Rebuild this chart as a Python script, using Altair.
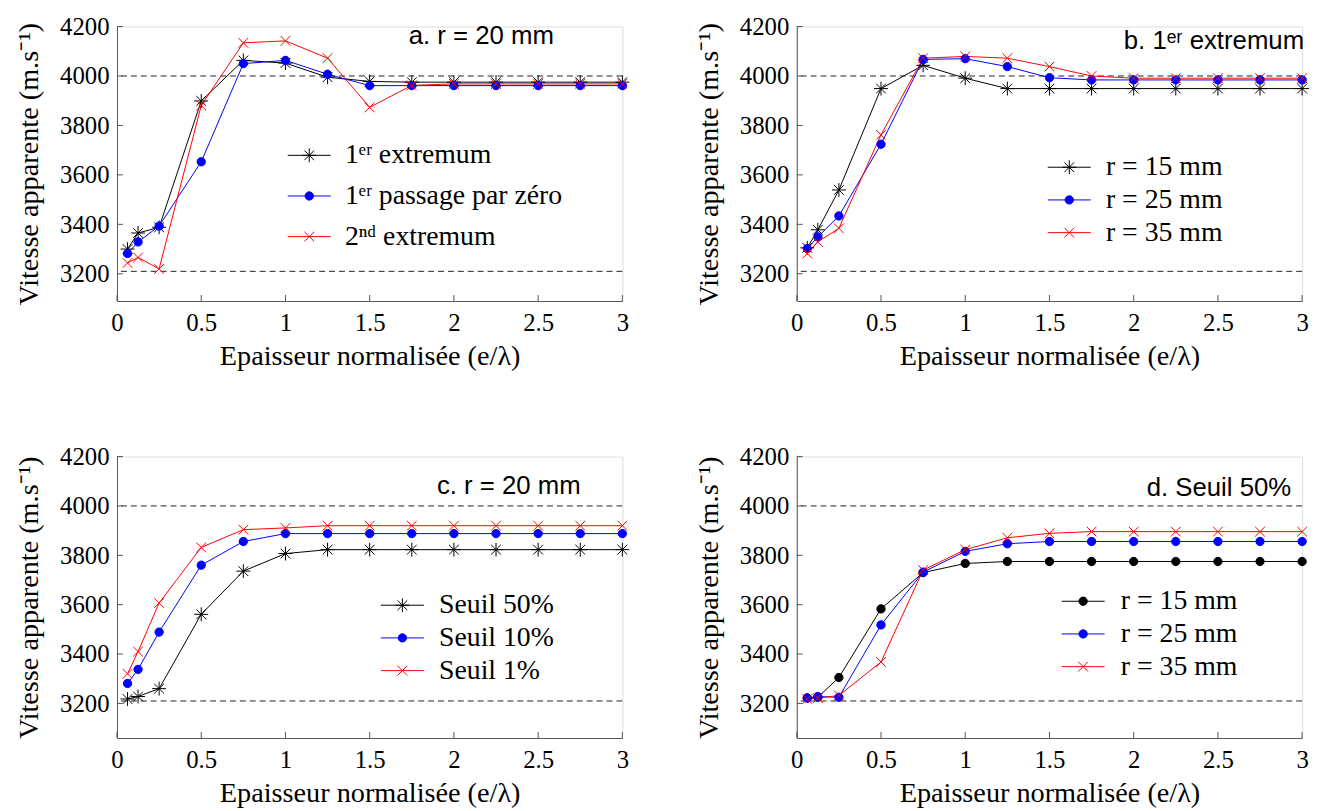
import altair as alt
import pandas as pd

# ---------------- data ----------------
x_vals = [0.0625, 0.125, 0.25, 0.5, 0.75, 1.0, 1.25, 1.5, 1.75, 2.0, 2.25, 2.5, 2.75, 3.0]

a_names = ["1ᵉʳ extremum", "1ᵉʳ passage par zéro", "2ⁿᵈ extremum"]
a_ext1 = [3300, 3365, 3388, 3899, 4063, 4052, 3995, 3978, 3975, 3975, 3975, 3975, 3975, 3975]
a_zero = [3282, 3329, 3393, 3653, 4050, 4063, 4007, 3961, 3961, 3961, 3961, 3961, 3961, 3961]
a_ext2 = [3244, 3266, 3220, 3881, 4134, 4142, 4072, 3873, 3962, 3968, 3968, 3968, 3968, 3968]

b_names = ["r = 15 mm", "r = 25 mm", "r = 35 mm"]
b_r15 = [3305, 3378, 3539, 3949, 4043, 3991, 3949, 3949, 3949, 3949, 3949, 3949, 3949, 3949]
b_r25 = [3302, 3349, 3434, 3724, 4067, 4070, 4038, 3993, 3984, 3984, 3984, 3984, 3984, 3984]
b_r35 = [3282, 3329, 3384, 3762, 4072, 4079, 4072, 4038, 4000, 3991, 3991, 3991, 3991, 3991]

c_names = ["Seuil 50%", "Seuil 10%", "Seuil 1%"]
c_s50 = [3218, 3228, 3260, 3561, 3736, 3807, 3823, 3823, 3823, 3823, 3823, 3823, 3823, 3823]
c_s10 = [3281, 3338, 3489, 3760, 3856, 3888, 3888, 3888, 3888, 3888, 3888, 3888, 3888, 3888]
c_s1 = [3320, 3410, 3607, 3832, 3904, 3911, 3920, 3920, 3920, 3920, 3920, 3920, 3920, 3920]

d_names = ["r = 15 mm ", "r = 25 mm ", "r = 35 mm "]
d_r15 = [3222, 3225, 3305, 3583, 3730, 3767, 3775, 3775, 3775, 3775, 3775, 3775, 3775, 3775]
d_r25 = [3222, 3228, 3225, 3518, 3732, 3816, 3847, 3856, 3856, 3856, 3856, 3856, 3856, 3856]
d_r35 = [3218, 3222, 3232, 3368, 3740, 3823, 3871, 3889, 3896, 3896, 3896, 3896, 3896, 3896]

ref_lines = [4000, 3210]
y_ticks = [3200, 3400, 3600, 3800, 4000, 4200]
x_ticks = [0, 0.5, 1, 1.5, 2, 2.5, 3]

titles = ["a. r = 20 mm", "b. 1ᵉʳ extremum", "c. r = 20 mm", "d. Seuil 50%"]

# ---------------- styling ----------------
W = 510
AX = "#555555"
SERIF = "'Liberation Serif', 'Times New Roman', serif"
SANS = "'Liberation Sans', Arial, sans-serif"

STAR = "M0,-1L0,1M-1,0L1,0M-0.7,-0.7L0.7,0.7M-0.7,0.7L0.7,-0.7"
XMK = "M-0.7,-0.7L0.7,0.7M-0.7,0.7L0.7,-0.7"
DOT = "M-0.6,0A0.6,0.6 0 1,0 0.6,0A0.6,0.6 0 1,0 -0.6,0Z"
LINE = "M-3.1,0L3.1,0"

XAXIS = alt.Axis(values=x_ticks, format="~g", title="Epaisseur normalisée (e/λ)",
                 titleFont=SERIF, titleFontSize=28.5, titleFontWeight="normal",
                 titleColor="black", labelFont=SERIF, labelFontSize=25,
                 labelColor="black", ticks=False, tickSize=0, labelPadding=10,
                 titlePadding=6, domainColor=AX, grid=False, labelFlush=False)
YAXIS = alt.Axis(values=y_ticks, format="d", title="Vitesse apparente (m.s⁻¹)",
                 titleFont=SERIF, titleFontSize=28.5, titleFontWeight="normal",
                 titleColor="black", labelFont=SERIF, labelFontSize=25,
                 labelColor="black", ticks=False, tickSize=0, labelPadding=8,
                 titlePadding=16, domainColor=AX, grid=False)


def panel(key, names, series, colors, markers, fills, title, tx, ty,
          lx, ly, loff, rpad, ymin, H):
    rows = []
    for name, vals in zip(names, series):
        for xv, yv in zip(x_vals, vals):
            rows.append({"x": xv, "v": yv, key: name})
    df = pd.DataFrame(rows)

    xs = alt.Scale(domain=[0, 3], nice=False, zero=False)
    ys = alt.Scale(domain=[ymin, 4200], nice=False, zero=False)

    cs = alt.Scale(domain=names, range=colors)
    fs = alt.Scale(domain=names, range=fills)
    base = alt.Chart(df)

    ref = alt.Chart(pd.DataFrame({"r": ref_lines})).mark_rule(
        strokeDash=[6, 4], color="#222222", strokeWidth=1
    ).encode(y=alt.Y("r:Q", scale=ys, axis=YAXIS))

    lines = base.mark_line(strokeWidth=1).encode(
        x=alt.X("x:Q", scale=xs, axis=XAXIS),
        y=alt.Y("v:Q", scale=ys, axis=YAXIS),
        color=alt.Color(f"{key}:N", scale=cs, legend=None),
    )
    pts = base.mark_point(size=196, strokeWidth=1, opacity=1).encode(
        x=alt.X("x:Q", scale=xs, axis=XAXIS),
        y=alt.Y("v:Q", scale=ys, axis=YAXIS),
        color=alt.Color(f"{key}:N", scale=cs, legend=None),
        shape=alt.Shape(f"{key}:N", scale=alt.Scale(domain=names, range=markers), legend=None),
        fill=alt.Fill(f"{key}:N", scale=fs, legend=None),
    )

    ytk = alt.Chart(pd.DataFrame({"t": y_ticks})).mark_rule(color=AX, strokeWidth=1).encode(
        y=alt.Y("t:Q", scale=ys, axis=YAXIS), x=alt.value(0), x2=alt.value(6))
    xtk = alt.Chart(pd.DataFrame({"t": x_ticks})).mark_rule(color=AX, strokeWidth=1).encode(
        x=alt.X("t:Q", scale=xs, axis=XAXIS), y=alt.value(H), y2=alt.value(H - 6))

    ttl = alt.Chart(pd.DataFrame({"t": [title]})).mark_text(
        align="right", baseline="middle", font=SANS, fontSize=26, color="black"
    ).encode(x=alt.value(tx), y=alt.value(ty), text="t:N")

    leg = alt.Legend(orient="none", legendX=lx, legendY=ly, title=None,
                     labelFont=SERIF, labelFontSize=28, labelColor="black",
                     symbolSize=196, symbolStrokeWidth=1, labelOffset=loff,
                     rowPadding=rpad, padding=0, labelLimit=500)
    lpaths = [LINE + m for m in markers]
    legl = base.transform_filter("false").mark_point(size=196, strokeWidth=1, opacity=1).encode(
        color=alt.Color(f"{key}:N", scale=cs, legend=leg),
        shape=alt.Shape(f"{key}:N", scale=alt.Scale(domain=names, range=lpaths), legend=leg),
        fill=alt.Fill(f"{key}:N", scale=fs, legend=leg),
    )

    return alt.layer(ref, lines, pts, ytk, xtk, ttl, legl).resolve_scale(
        color="independent", shape="independent", fill="independent"
    ).properties(width=W, height=H)


KBR = ["#000000", "#0000ff", "#ff0000"]
NOFILL = "transparent"

pa = panel("sa", a_names, [a_ext1, a_zero, a_ext2], KBR, [STAR, DOT, XMK],
           [NOFILL, "#0000ff", NOFILL], titles[0], 441, 10, 180, 116, 22, 13, 3090, 277)
pb = panel("sb", b_names, [b_r15, b_r25, b_r35], KBR, [STAR, DOT, XMK],
           [NOFILL, "#0000ff", NOFILL], titles[1], 512, 15, 261, 128, 23, 5, 3090, 277)
pc = panel("sc", c_names, [c_s50, c_s10, c_s1], KBR, [STAR, DOT, XMK],
           [NOFILL, "#0000ff", NOFILL], titles[2], 468, 30, 274, 136, 23, 5, 3060, 284)
pd_ = panel("sd", d_names, [d_r15, d_r25, d_r35], KBR, [DOT, DOT, XMK],
            ["#000000", "#0000ff", NOFILL], titles[3], 499, 32, 275, 132, 24, 5, 3060, 284)

RES = dict(color="independent", shape="independent", fill="independent")
top = alt.hconcat(pa, pb, spacing=62).resolve_scale(**RES)
bot = alt.hconcat(pc, pd_, spacing=62).resolve_scale(**RES)
chart = alt.vconcat(top, bot, spacing=74).resolve_scale(**RES).properties(
    padding={"left": 6, "top": 2, "right": 5, "bottom": 2}
).configure_view(strokeWidth=0, stroke="transparent").configure(background="white")

chart.save("out.html", embed_options={"renderer": "svg", "actions": False})
